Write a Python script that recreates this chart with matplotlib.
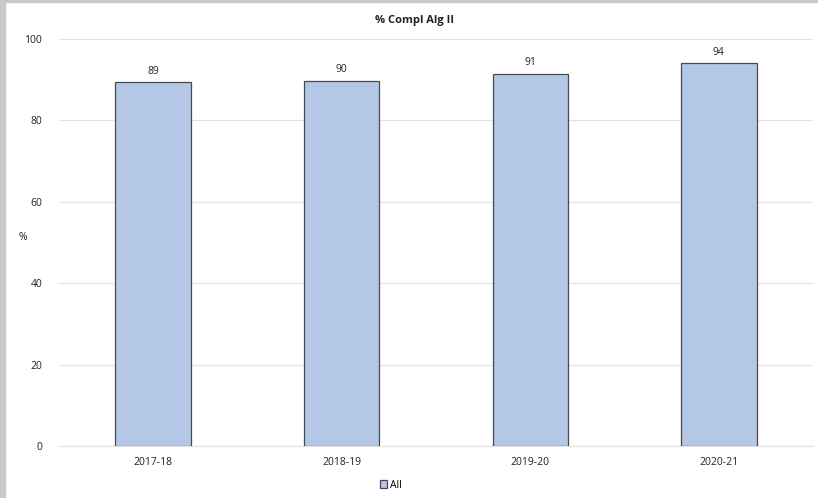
import matplotlib
matplotlib.use("Agg")
import matplotlib.pyplot as plt
from matplotlib.patches import Rectangle

# Data
years = ["2017-18", "2018-19", "2019-20", "2020-21"]
compl_all = [89.4, 89.7, 91.4, 94.0]
labels = ["89", "90", "91", "94"]

plt.rcParams["font.family"] = ["Open Sans", "DejaVu Sans"]

fig = plt.figure(figsize=(8.18, 4.98), dpi=100)
ax = fig.add_axes([0.072, 0.1044, 0.922, 0.8173])

# grey frame on the left and top edge
fig.patches.append(Rectangle((0, 0), 5 / 818, 1, transform=fig.transFigure, color="#c8c8c8", zorder=0))
fig.patches.append(Rectangle((0, 1 - 2 / 498), 1, 2 / 498, transform=fig.transFigure, color="#c8c8c8", zorder=0))

x = range(len(years))
bars = ax.bar(x, compl_all, width=0.4, color="#b4c7e7", edgecolor="#4a4a4a", linewidth=0.9, label="All", zorder=3)
for b, t in zip(bars, labels):
    ax.annotate(t, (b.get_x() + b.get_width() / 2, b.get_height()), xytext=(0, 4),
                textcoords="offset points", ha="center", va="bottom", fontsize=7.5, color="#222222")

ax.set_xlim(-0.5, len(years) - 0.5)
ax.set_ylim(0, 100)
ax.set_yticks([0, 20, 40, 60, 80, 100])
ax.set_xticks(list(x))
ax.set_xticklabels(years)
ax.grid(axis="y", color="#e3e3e3", linewidth=0.9, zorder=0)
for s in ["top", "right", "left"]:
    ax.spines[s].set_visible(False)
ax.spines["bottom"].set_color("#e3e3e3")
ax.tick_params(axis="both", length=0, labelsize=7.5, colors="#222222")
ax.tick_params(axis="x", pad=8)
ax.tick_params(axis="y", pad=12)

ax.set_ylabel("%", rotation=0, fontsize=7.5, color="#222222")
ax.yaxis.set_label_coords(-0.048, 0.5)
fig.text(415 / 818, 0.958, "% Compl Alg II", ha="center", va="center", fontsize=8, fontweight="bold", color="#222222")

fig.legend(loc="center", bbox_to_anchor=(0.478, 0.026), frameon=False, fontsize=7.5,
           handlelength=0.7, handleheight=0.7, handletextpad=0.3)

fig.savefig("out.png", dpi=100)
